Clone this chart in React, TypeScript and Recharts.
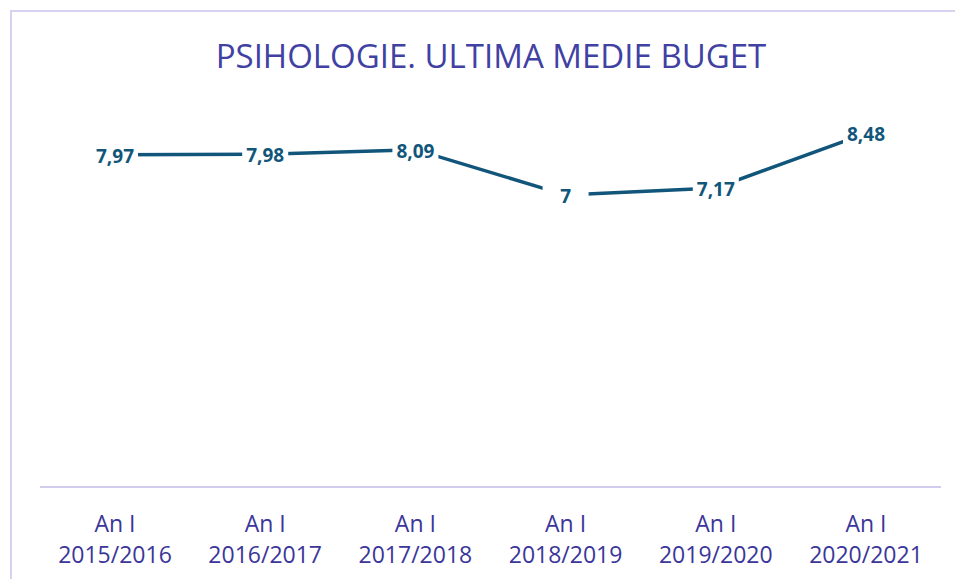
import React from "react";
import { LineChart, Line, XAxis, YAxis, LabelList } from "recharts";

const categories = ["2015/2016", "2016/2017", "2017/2018", "2018/2019", "2019/2020", "2020/2021"];
const categoryPrefix = "An I";
const values = [7.97, 7.98, 8.09, 7, 7.17, 8.48];
const title = "PSIHOLOGIE. ULTIMA MEDIE BUGET";

const data = categories.map((c, i) => ({ name: c, value: values[i] }));

const LINE_COLOR = "#11567A";
const TEXT_COLOR = "#3B3699";

const fmt = (v: number) => String(v).replace(".", ",");

const Tick = (props: any) => {
  const { x, y, payload } = props;
  return (
    <g>
      <text x={x} y={y + 37} textAnchor="middle" fill={TEXT_COLOR} fontFamily="'Open Sans', sans-serif" fontSize={23}>
        {categoryPrefix}
      </text>
      <text x={x} y={y + 68} textAnchor="middle" fill={TEXT_COLOR} fontFamily="'Open Sans', sans-serif" fontSize={23}>
        {payload.value}
      </text>
    </g>
  );
};

const PointLabel = (props: any) => {
  const { x, y, value } = props;
  return (
    <g>
      <rect x={x - 23} y={y - 11} width={46} height={22} fill="#ffffff" />
      <text
        x={x}
        y={y + 1}
        textAnchor="middle"
        dominantBaseline="central"
        fill={LINE_COLOR}
        fontFamily="'Open Sans', sans-serif"
        fontWeight={700}
        fontSize={19}
      >
        {fmt(value)}
      </text>
    </g>
  );
};

export default function App() {
  return (
    <div style={{ position: "absolute", left: 0, top: 0, width: 955, height: 579, overflow: "hidden", background: "#fff" }}>
      <div
        style={{
          position: "absolute",
          left: 10,
          top: 10,
          width: 1000,
          height: 1000,
          border: "2px solid #D6D2F2",
          boxSizing: "border-box",
        }}
      />
      <svg style={{ position: "absolute", left: 0, top: 0 }} width={955} height={579}>
        <text x={491} y={68} textAnchor="middle" fill="#4141A3" fontFamily="'Open Sans', sans-serif" fontSize={33}>
          {title}
        </text>
      </svg>
      <div style={{ position: "absolute", left: 0, top: 0 }}>
        <LineChart width={955} height={579} data={data} margin={{ top: 70, right: 14, bottom: 0, left: 40 }}>
          <XAxis
            dataKey="name"
            padding={{ left: 75, right: 75 }}
            tickLine={false}
            axisLine={{ stroke: "#D0CCEE", strokeWidth: 2 }}
            tick={<Tick />}
            interval={0}
            height={92}
          />
          <YAxis hide domain={[0, 10]} />
          <Line
            type="linear"
            dataKey="value"
            stroke={LINE_COLOR}
            strokeWidth={3.5}
            dot={false}
            isAnimationActive={false}
          >
            <LabelList dataKey="value" content={<PointLabel />} />
          </Line>
        </LineChart>
      </div>
    </div>
  );
}
